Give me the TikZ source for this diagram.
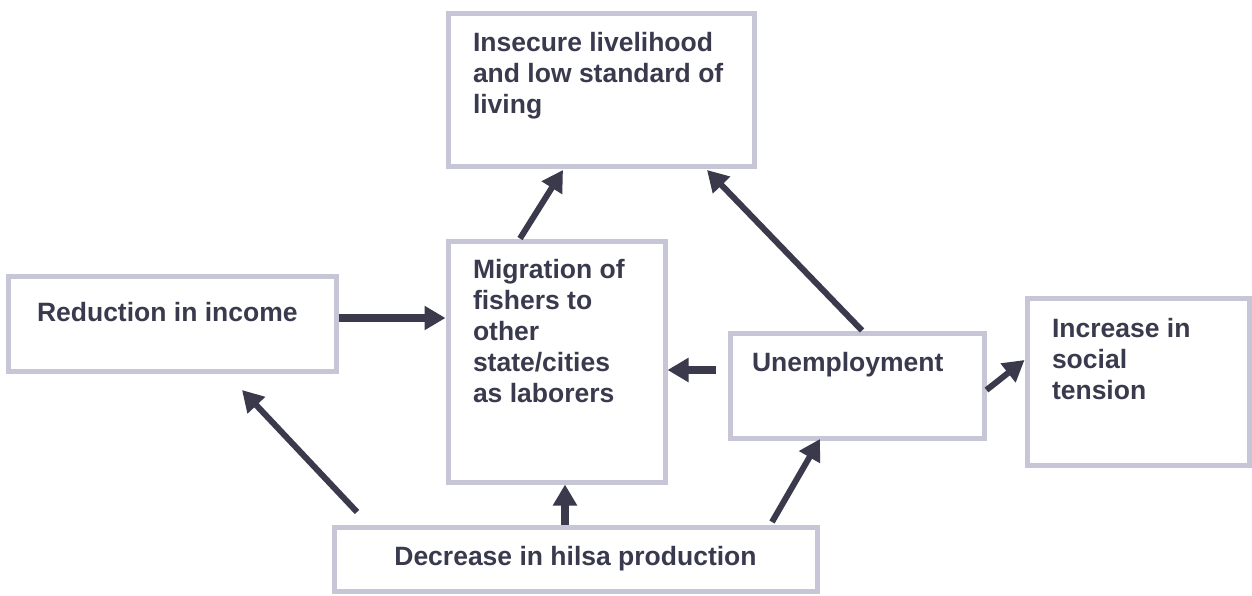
\documentclass[tikz,border=0pt]{standalone}
\usepackage{fontspec}
\setmainfont{Liberation Sans}
\usetikzlibrary{arrows.meta,calc}
\definecolor{bordc}{HTML}{C6C6D6}
\definecolor{arrc}{HTML}{3A3A4C}
\definecolor{txtc}{HTML}{3A3A4E}
\newcommand\bxt[5]{\parbox[c][#2][t]{#1}{\raggedright\leftskip=#3\relax\rule{0pt}{#4}#5}}
\newcommand\bxc[4]{\parbox[c][#2][t]{#1}{\centering\rule{0pt}{#3}#4}}
\tikzset{
  box/.style={draw=bordc, line width=5pt, inner sep=0pt, fill=white, text=txtc,
    font=\fontsize{26.5}{31}\selectfont\bfseries},
  arr/.style={draw=arrc, line width=6pt, -{Triangle[length=21pt,width=23pt]}},
  arrb/.style={arr, line width=8pt}
}
\begin{document}
\begin{tikzpicture}[x=1pt,y=-1pt]
\useasboundingbox[fill=white] (0,0) rectangle (1252,595);
\node[box] (ins) at (601,89.5) {\bxt{306pt}{153pt}{25pt}{38pt}{Insecure livelihood\\and low standard of\\living}};
\node[box] (mig) at (556.5,361.5) {\bxt{217pt}{241pt}{25pt}{37pt}{Migration of\\fishers to\\other\\state/cities\\as laborers}};
\node[box] (red) at (172,323.5) {\bxt{328pt}{95pt}{29pt}{45pt}{Reduction in income}};
\node[box] (une) at (857,385.5) {\bxt{254pt}{105pt}{22pt}{38pt}{Unemployment}};
\node[box] (inc) at (1138,381.5) {\bxt{222pt}{167pt}{25pt}{39pt}{Increase in\\social\\tension}};
\node[box] (dec) at (575.5,559) {\bxc{483pt}{64pt}{38pt}{Decrease in hilsa production}};
% connectors
\draw[arrb] ([yshift=5.5pt]red.east) -- ([yshift=5.5pt]red.east -| mig.west);
\draw[arrb, shorten <=12pt] ([yshift=15.5pt]une.west) -- ([yshift=15.5pt]une.west -| mig.east);
\draw[arr] ([yshift=-4.5pt]une.east) -- ([yshift=21.5pt]inc.west);
\draw[arr] ([xshift=25.5pt,yshift=12.5pt]dec.north west) -- ([xshift=70pt,yshift=-16.5pt]red.south);
\draw[arrb] ([xshift=-10.5pt]dec.north) -- ([xshift=-10.5pt]dec.north |- mig.south);
\draw[arr] ([xshift=-47.5pt,yshift=2.5pt]dec.north east) -- ([xshift=-37pt,yshift=1.5pt]une.south);
\draw[arr] ([xshift=-36.5pt]mig.north) -- ([xshift=-38pt,yshift=-1.5pt]ins.south);
\draw[arr] ([xshift=5pt]une.north) -- ([xshift=-49.5pt,yshift=-1.5pt]ins.south east);
\end{tikzpicture}
\end{document}
